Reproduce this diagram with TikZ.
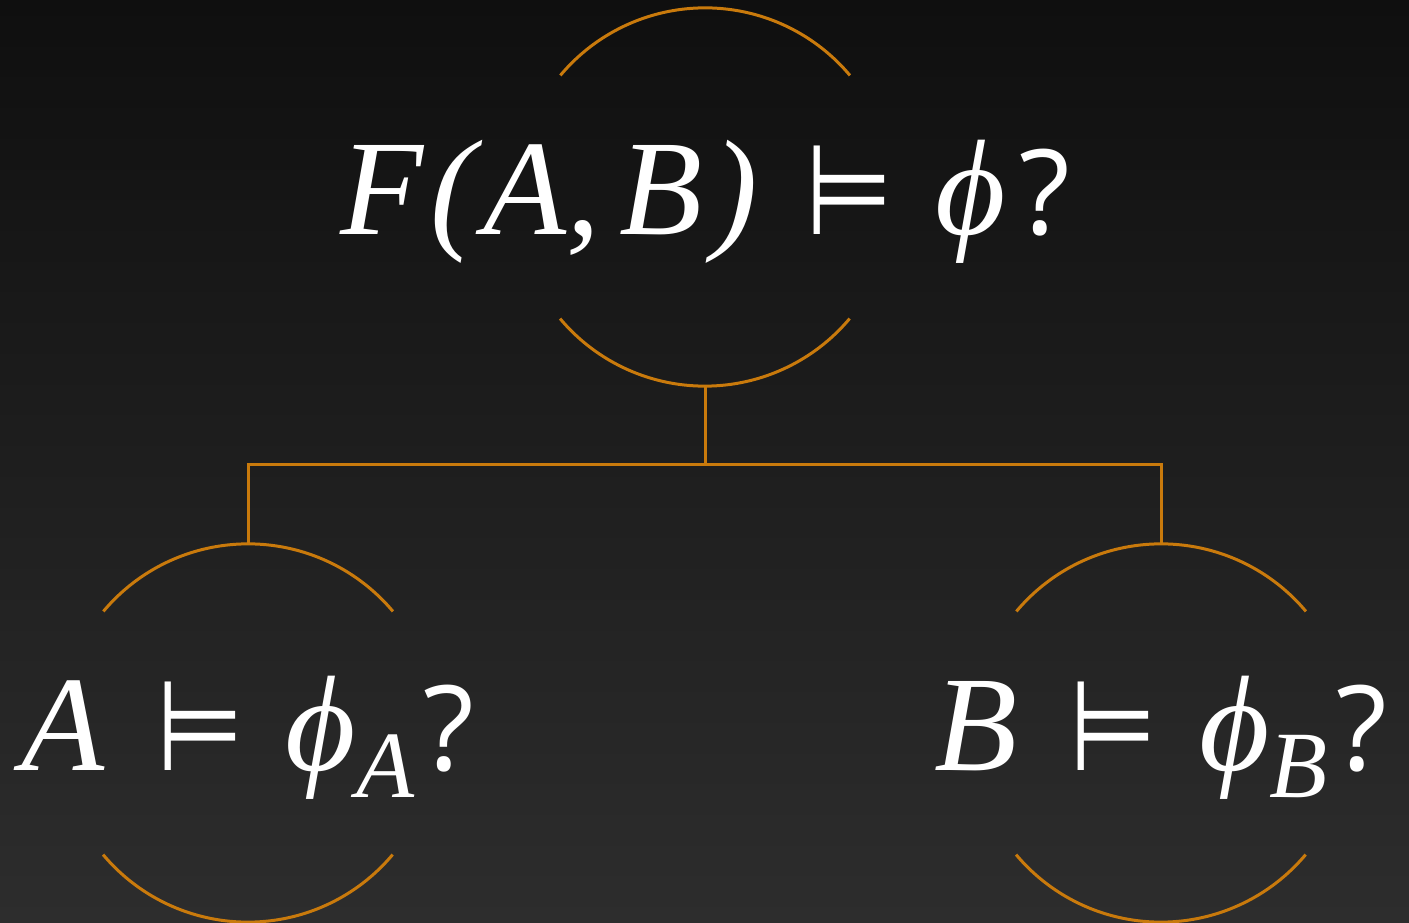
\documentclass[tikz,border=0pt]{standalone}
\usepackage{fontspec}
\usepackage{graphicx}
\setmainfont{Liberation Serif}
\newfontfamily\symfnt{DejaVu Sans}
\newfontfamily\qfnt{Open Sans}
\definecolor{bgtop}{HTML}{0F0F0F}
\definecolor{bgbot}{HTML}{2D2D2D}
\definecolor{arcorange}{HTML}{C97A0C}
\newcommand{\mymodels}{{\upshape\symfnt\scalebox{0.74}[0.93]{⊨}}}
\newcommand{\myq}{{\upshape\qfnt\fontsize{118}{140}\selectfont ?}}
\begin{document}
\begin{tikzpicture}[x=1pt,y=1pt,
  arcline/.style={draw=arcorange,line width=3pt},
  ring/.style={circle,minimum size=378pt,inner sep=0pt,draw=none},
  formula/.style={text=white,anchor=base,inner sep=0pt,font=\fontsize{136}{160}\selectfont\itshape}]
\shade[top color=bgtop,bottom color=bgbot] (0,0) rectangle (1409,922);
\useasboundingbox (0,0) rectangle (1409,922);
\node[ring] (ctop) at (705,725) {};
\node[ring] (cleft) at (248,189) {};
\node[ring] (cright) at (1161,189) {};
\foreach \c in {ctop,cleft,cright}{
  \draw[arcline] (\c.40) arc[start angle=40,end angle=140,radius=189pt];
  \draw[arcline] (\c.220) arc[start angle=220,end angle=320,radius=189pt];
}
\coordinate (junc) at (705,457);
\draw[arcline] (ctop.south) -- (junc) -| (cleft.north);
\draw[arcline] (junc) -| (cright.north);
\node[formula] (ftop) at (705,687) {F\kern0.05em(\kern0.06em A,\kern0.14em B\kern0.07em)\hspace{0.35em}\mymodels\hspace{0.31em}ϕ\kern0.1em\myq};
\node[formula] (fleft) at (248,152) {A\hspace{0.38em}\mymodels\hspace{0.31em}ϕ\raisebox{-0.2em}{\fontsize{95}{110}\selectfont A}\kern0.07em\myq};
\node[formula] (fright) at (1161,152) {B\hspace{0.38em}\mymodels\hspace{0.31em}ϕ\raisebox{-0.2em}{\fontsize{95}{110}\selectfont B}\kern0.07em\myq};
\end{tikzpicture}
\end{document}
